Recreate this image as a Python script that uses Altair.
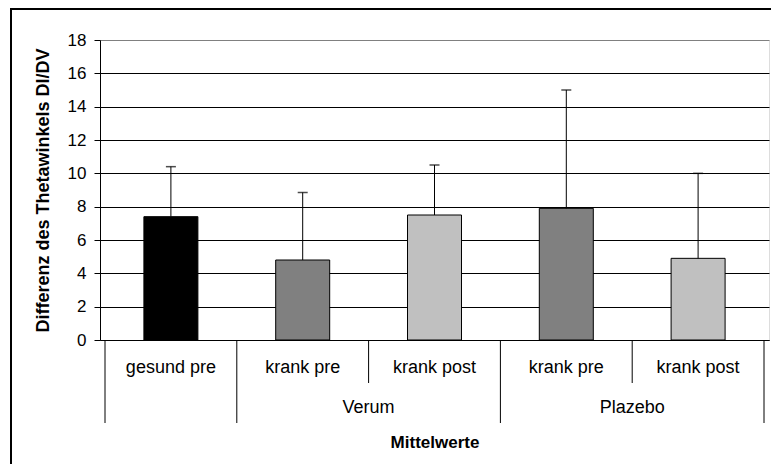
import altair as alt
import pandas as pd

# ---- data ----
labels = ["gesund pre", "krank pre", "krank post", "krank pre", "krank post"]
groups = ["", "Verum", "Verum", "Plazebo", "Plazebo"]
keys = ["gesund_pre", "verum_pre", "verum_post", "plazebo_pre", "plazebo_post"]
means = [7.4, 4.8, 7.5, 7.9, 4.9]
upper = [10.4, 8.85, 10.5, 15.0, 10.0]
y_ticks = [0, 2, 4, 6, 8, 10, 12, 14, 16, 18]

# ---- style ----
bar_colors = ["#000000", "#808080", "#c0c0c0", "#808080", "#c0c0c0"]
FONT = "Liberation Sans"

n = len(labels)
df = pd.DataFrame({
    "key": keys, "label": labels, "group": groups,
    "mean": means, "upper": upper,
    "pos": [i + 0.5 for i in range(n)],
})

bounds = []
for i in range(n + 1):
    long_ = i == 0 or i == n or groups[i - 1] != groups[i]
    bounds.append({"b": i, "kind": "long" if long_ else "short"})
bdf = pd.DataFrame(bounds)

glist = []
for g in dict.fromkeys(groups):
    if g:
        idx = [i for i, gg in enumerate(groups) if gg == g]
        glist.append({"group": g, "pos": (min(idx) + max(idx) + 1) / 2})
gdf = pd.DataFrame(glist)

xs = alt.Scale(domain=[0, n], nice=False, zero=False)
ys = alt.Scale(domain=[0, 18], nice=False)

x_axis = alt.Axis(
    labels=False, ticks=False, grid=False, domain=True, domainColor="black",
    title="Mittelwerte", titleFont=FONT, titleFontSize=17, titleFontWeight="bold",
    titleColor="black", titlePadding=94)
y_axis = alt.Axis(
    values=y_ticks, grid=True,
    gridColor={"condition": {"test": "datum.value === 18", "value": "#808080"}, "value": "black"},
    domainColor="black", tickColor="black", tickSize=6,
    labelFont=FONT, labelFontSize=17, labelColor="black", labelPadding=8,
    title="Differenz des Thetawinkels DI/DV", titleFont=FONT, titleFontSize=18,
    titleFontWeight="bold", titleColor="black", titlePadding=15)

X = lambda f: alt.X(f, scale=xs, axis=x_axis, title="Mittelwerte")
Y = lambda f: alt.Y(f, scale=ys, axis=y_axis, title="Differenz des Thetawinkels DI/DV")

bars = alt.Chart(df).mark_bar(size=54, stroke="black", strokeWidth=1).encode(
    x=X("pos:Q"),
    y=Y("mean:Q"),
    color=alt.Color("key:N", scale=alt.Scale(domain=keys, range=bar_colors), legend=None),
)

err = alt.Chart(df).mark_rule(color="black", strokeWidth=1).encode(
    x=X("pos:Q"),
    y=Y("mean:Q"),
    y2="upper:Q",
)
caps = alt.Chart(df).mark_tick(orient="horizontal", size=10, thickness=1.5, color="black").encode(
    x=X("pos:Q"),
    y=Y("upper:Q"),
)

sep_long = alt.Chart(bdf).transform_filter("datum.kind == 'long'").mark_rule(color="black", strokeWidth=1).encode(
    x=X("b:Q"),
    y=alt.value(300), y2=alt.value(383),
)
sep_short = alt.Chart(bdf).transform_filter("datum.kind == 'short'").mark_rule(color="black", strokeWidth=1).encode(
    x=X("b:Q"),
    y=alt.value(300), y2=alt.value(343),
)

cat_text = alt.Chart(df).mark_text(font=FONT, fontSize=18, color="black", baseline="middle").encode(
    x=X("pos:Q"),
    y=alt.value(328),
    text="label:N",
)
grp_text = alt.Chart(gdf).mark_text(font=FONT, fontSize=18, color="black", baseline="middle").encode(
    x=X("pos:Q"),
    y=alt.value(368),
    text="group:N",
)

frame = alt.Chart(alt.Data(values=[{"f": 1}])).mark_rect(
    fillOpacity=0, stroke="black", strokeWidth=2, clip=False).encode(
    x=alt.value(-89), x2=alt.value(760), y=alt.value(-31), y2=alt.value(500),
)

chart = alt.layer(
    bars, err, caps, sep_long, sep_short, cat_text, grp_text, frame
).properties(
    width=669, height=300,
    autosize=alt.AutoSizeParams(type="none"),
    padding={"left": 92, "top": 32, "right": 2, "bottom": 124},
    background="white",
).configure_view(
    stroke="#808080", strokeWidth=1,
).configure(font=FONT)

chart.save("out.html", embed_options={"renderer": "svg", "actions": False})
